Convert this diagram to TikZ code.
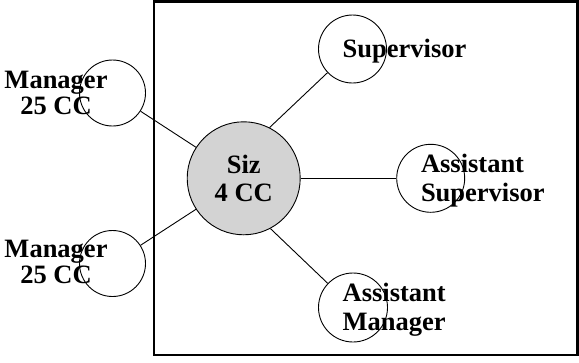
\documentclass[tikz,border=0pt]{standalone}
\usepackage{fontspec}
\setmainfont{Liberation Serif}
\definecolor{sizgray}{RGB}{211,211,211}
\newcommand{\txtblock}[3]{{\fontsize{26.5}{#2}\selectfont\bfseries\begin{tabular}[t]{@{}#1@{}}#3\end{tabular}}}
\tikzset{
  circ/.style={circle, draw=black, line width=0.9pt, inner sep=0pt},
  lbl/.style={inner sep=0pt, outer sep=0pt},
  conn/.style={draw=black, line width=0.9pt},
  frame/.style={draw=black, line width=2.7pt}
}
\begin{document}
\begin{tikzpicture}[x=1pt, y=-1pt]
\useasboundingbox (0,0) rectangle (579,362);
\draw[frame] (154,1.4) rectangle (577.2,355);
% circles
\node[circ, minimum size=66pt] (m1) at (112.5,93) {};
\node[circ, minimum size=66pt] (m2) at (112.5,263.5) {};
\node[circ, fill=sizgray, minimum size=113pt] (c) at (243.7,178.3) {};
\node[circ, minimum size=68pt] (sup) at (352.5,49) {};
\node[circ, minimum size=68pt] (asup) at (430.7,178.3) {};
\node[circ, minimum size=69pt] (am) at (353,307.5) {};
% connectors
\draw[conn] (m1) -- (c);
\draw[conn] (m2) -- (c);
\draw[conn] (c.63) -- (sup);
\draw[conn] (c) -- (asup);
\draw[conn] (c.-62) -- (am);
% labels
\node[lbl, anchor=base] (tm1) at (56,88.3) {\txtblock{c}{26}{Manager\\25 CC}};
\node[lbl, anchor=base] (tm2) at (56,257) {\txtblock{c}{26}{Manager\\25 CC}};
\node[lbl, anchor=base] (tc) at (243.7,173) {\txtblock{c}{28}{Siz\\4 CC}};
\node[lbl, anchor=base west] (tsup) at (342.7,57.3) {\txtblock{l}{29}{Supervisor}};
\node[lbl, anchor=base west] (tasup) at (421,172.3) {\txtblock{l}{29}{Assistant\\Supervisor}};
\node[lbl, anchor=base west] (tam) at (342.7,301.3) {\txtblock{l}{29}{Assistant\\Manager}};
\end{tikzpicture}
\end{document}
